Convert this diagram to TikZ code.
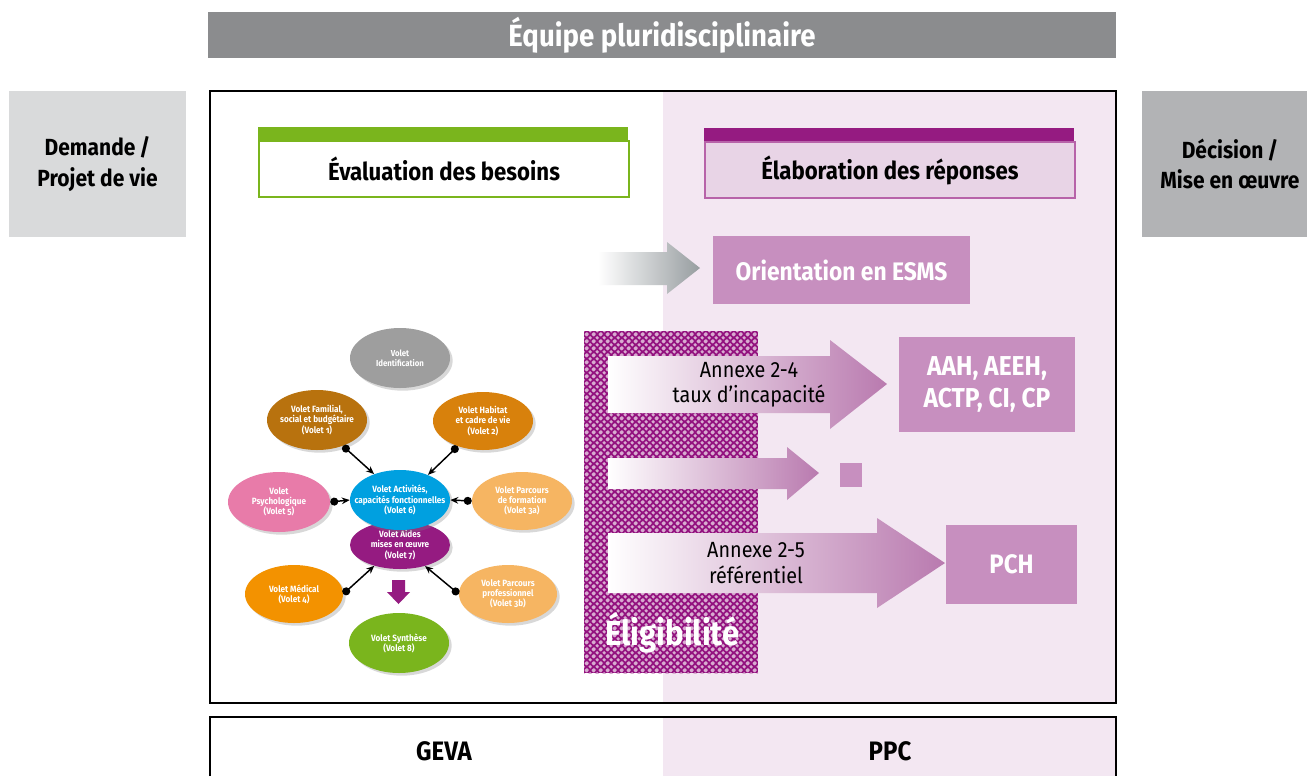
\documentclass[tikz,border=0pt]{standalone}
\usepackage{fontspec}
\setmainfont{Fira Sans}[FakeStretch=0.9]
\usetikzlibrary{positioning,shapes.geometric,arrows.meta,shadows,patterns.meta}

\definecolor{titlegray}{HTML}{8B8C8E}
\definecolor{demgray}{HTML}{D9DADB}
\definecolor{decgray}{HTML}{B2B3B5}
\definecolor{pinkbg}{HTML}{F3E7F2}
\definecolor{evalgreen}{HTML}{7AB51D}
\definecolor{elabpurple}{HTML}{951B81}
\definecolor{elabfill}{HTML}{E8D4E6}
\definecolor{elabborder}{HTML}{B763A9}
\definecolor{boxpink}{HTML}{C78FBF}
\definecolor{arrowpink}{HTML}{B97AAF}
\definecolor{arrowgray}{HTML}{979DA0}
\definecolor{eligpurple}{HTML}{93127F}
\definecolor{eligpink}{HTML}{D8ABD0}

\def\pxu{0.75pt}

\tikzdeclarepattern{
  name=eligdots,
  type=uncolored,
  bottom left={(0pt,0pt)},
  top right={(5pt,5pt)},
  tile size={(5pt,5pt)},
  code={
    \foreach \cx/\cy in {0/0,5/0,0/5,5/5,2.5/2.5}
      \fill (\cx pt,\cy pt) circle (1.4pt);
  }
}

\begin{document}
\begin{tikzpicture}[x=0.75pt,y=-0.75pt,
    volet/.style={ellipse, inner sep=-12pt, minimum width=100*\pxu, minimum height=60*\pxu,
      text=white, align=center, font=\bfseries\fontsize{6.8}{7.6}\selectfont\addfontfeature{Numbers=OldStyle},
      drop shadow={opacity=0.3, shadow xshift=2pt, shadow yshift=-2pt}},
    lien/.style={{Circle[length=6pt]}-{Stealth[length=6pt,width=5pt]}, line width=1.1pt},
    rouge/.style={fill=boxpink, text=white, align=center, inner sep=0pt,
      font=\bfseries\fontsize{19}{22}\selectfont},
    annexe/.style={align=center, font=\fontsize{16.5}{19}\selectfont}]
  \useasboundingbox (0,0) rectangle (1307,776);

  % Header bar and side boxes
  \node[fill=titlegray, text=white, minimum width=908*\pxu, minimum height=46*\pxu, inner sep=0pt,
    font=\bfseries\fontsize{23}{26}\selectfont] (equipe) at (662,35) {Équipe pluridisciplinaire};
  \node[fill=demgray, minimum width=177*\pxu, minimum height=146*\pxu, inner sep=0pt, align=center,
    font=\bfseries\fontsize{17.5}{23}\selectfont] (demande) at (97.5,164) {Demande\thinspace/\\Projet de vie};
  \node[fill=decgray, minimum width=176*\pxu, minimum height=146*\pxu, inner sep=0pt, align=center,
    font=\bfseries\fontsize{17.5}{23}\selectfont] (decision) at (1230,164) {Décision\thinspace/\\Mise en œuvre};

  % Main frame
  \fill[white] (210,91) rectangle (663,703);
  \fill[pinkbg] (663,91) rectangle (1116,703);
  \draw[line width=0.8pt] (210,91) rectangle (1116,703);

  % Column titles
  \node[draw=evalgreen, fill=white, line width=0.8pt, minimum width=370*\pxu, minimum height=56*\pxu,
    inner sep=0pt, font=\bfseries\fontsize{18.5}{21}\selectfont] (eval) at (444,169) {Évaluation des besoins};
  \fill[evalgreen] (eval.north west) rectangle ++(370,-13);
  \node[draw=elabborder, fill=elabfill, line width=0.8pt, minimum width=370*\pxu, minimum height=56*\pxu,
    inner sep=0pt, font=\bfseries\fontsize{18.5}{21}\selectfont] (elab) at (890,170) {Élaboration des réponses};
  \fill[elabpurple] (elab.north west) rectangle ++(370,-13);

  % Eligibilite
  \fill[eligpurple] (584,331) rectangle (758,673);
  \fill[pattern=eligdots, pattern color=eligpink] (584,331) rectangle (758,673);
  \node[anchor=base west, text=white, inner sep=0pt, font=\bfseries\fontsize{26}{28}\selectfont]
    (elig) at (605,645) {Éligibilité};

  % Block arrows
  \shade[left color=white, right color=arrowgray]
    (598,252) -- (667,252) -- (667,242) -- (700,268) -- (667,294) -- (667,285) -- (598,285) -- cycle;
  \shade[left color=white, right color=arrowpink]
    (608,356) -- (830,356) -- (830,340) -- (887,384) -- (830,429) -- (830,413) -- (608,413) -- cycle;
  \shade[left color=white, right color=arrowpink]
    (608,458) -- (787,458) -- (787,447) -- (819,473) -- (787,500) -- (787,489) -- (608,489) -- cycle;
  \shade[left color=white, right color=arrowpink]
    (608,533) -- (877,533) -- (877,518) -- (945,563) -- (877,608) -- (877,593) -- (608,593) -- cycle;
  \node[annexe] (an24) at (749,385) {Annexe 2-4\\taux d’incapacité};
  \node[annexe] (an25) at (756,563) {Annexe 2-5\\référentiel};

  % Answers
  \node[rouge, minimum width=257*\pxu, minimum height=68*\pxu] (esms) at (841.5,270) {Orientation en ESMS};
  \node[rouge, minimum width=176*\pxu, minimum height=95*\pxu, font=\bfseries\fontsize{20.5}{24}\selectfont]
    (aah) at (987,384.5) {AAH, AEEH,\\ACTP, CI, CP};
  \node[rouge, minimum width=22*\pxu, minimum height=24*\pxu] (carre) at (851,475) {};
  \node[rouge, minimum width=131*\pxu, minimum height=79*\pxu, font=\bfseries\fontsize{20}{24}\selectfont]
    (pch) at (1011.5,564) {PCH};

  % GEVA volets
  \node[volet, fill=black!38, font=\bfseries\fontsize{6.5}{7.2}\selectfont] (ident) at (400,358) {Volet\\Identification};
  \node[volet, fill={rgb,255:red,184;green,114;blue,14}] (fam) at (317,420) {Volet Familial,\\social et budgétaire\\(Volet 1)};
  \node[volet, fill={rgb,255:red,216;green,129;blue,12}, minimum height=58*\pxu] (hab) at (483,421) {Volet Habitat\\et cadre de vie\\(Volet 2)};
  \node[volet, fill={rgb,255:red,246;green,181;blue,98}, minimum height=58*\pxu] (form) at (522,501) {Volet Parcours\\de formation\\(Volet 3a)};
  \node[volet, fill={rgb,255:red,232;green,123;blue,169}, minimum width=102*\pxu] (psy) at (279,502) {Volet\\Psychologique\\(Volet 5)};
  \node[volet, fill=elabpurple, minimum height=48*\pxu] (aides) at (400,545) {Volet Aides\\mises en œuvre\\(Volet 7)};
  \node[volet, fill={rgb,255:red,0;green,160;blue,224}] (act) at (400,500) {Volet Activités,\\capacités fonctionnelles\\(Volet 6)};
  \node[volet, fill={rgb,255:red,243;green,146;blue,0}, minimum width=98*\pxu, minimum height=58*\pxu] (med) at (294,594) {Volet Médical\\(Volet 4)};
  \node[volet, fill={rgb,255:red,246;green,181;blue,98}, minimum width=98*\pxu, minimum height=58*\pxu] (pro) at (508,594) {Volet Parcours\\professionnel\\(Volet 3b)};
  \node[volet, fill=evalgreen] (synth) at (399,643) {Volet Synthèse\\(Volet 8)};

  \draw[lien] (fam.-45) -- (act.135);
  \draw[lien] (hab.-135) -- (act.42);
  \draw[lien] (psy.east) -- (act.west);
  \draw[lien] (form.west) -- (act.east);
  \draw[lien] (med.east) -- (aides.-141);
  \draw[lien] (pro.west) -- (aides.-40);
  \fill[elabpurple] (392,580) -- (405,580) -- (405,592) -- (410,592) -- (398.5,604) -- (387,592) -- (392,592) -- cycle;

  % Bottom row
  \fill[pinkbg] (663,717) rectangle (1116,776);
  \draw[line width=0.8pt] (210,776) -- (210,717) -- (1116,717) -- (1116,776);
  \node[font=\bfseries\fontsize{20}{23}\selectfont] (geva) at (444,751) {GEVA};
  \node[font=\bfseries\fontsize{20}{23}\selectfont] (ppc) at (890,751) {PPC};
\end{tikzpicture}
\end{document}
